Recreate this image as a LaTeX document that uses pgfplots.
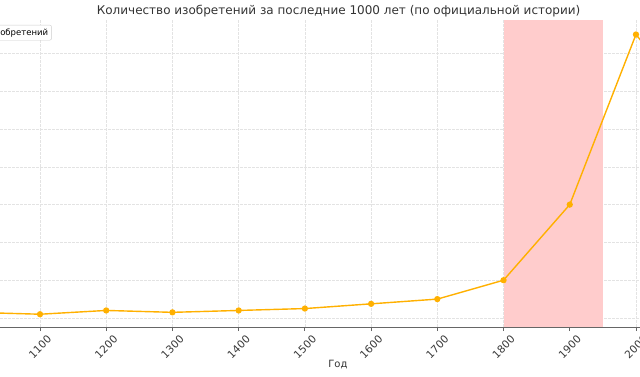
\documentclass[border=0pt]{standalone}
\usepackage{fontspec}
\setmainfont{DejaVu Sans}
\usepackage{pgfplots}
\pgfplotsset{compat=1.18}
\definecolor{lineor}{HTML}{FFB000}
\definecolor{spanred}{HTML}{FFCCCC}
\begin{document}
\begin{tikzpicture}
\useasboundingbox (0,0) rectangle (640pt,376pt);
\clip (0,0) rectangle (640pt,376pt);
\begin{axis}[
  at={(0pt,49pt)}, anchor=south west,
  scale only axis, width=640pt, height=307pt,
  xmin=1039.6, xmax=2006.1, ymin=-47.6, ymax=1576.7,
  xtick={1100,1200,...,2000},
  ytick={0,200,...,1400}, yticklabels={},
  /pgf/number format/1000 sep={},
  /pgf/number format/assume math mode=true,
  grid=major, grid style={dash pattern=on 3pt off 1pt, black!11, line width=0.6pt},
  axis x line*=bottom, axis y line*=left,
  x axis line style={black!60, -, line width=0.8pt},
  y axis line style={draw=none},
  ytick style={draw=none},
  xtick style={black!60, line width=0.8pt},
  tick align=outside, major tick length=4pt,
  xticklabel style={font=\fontsize{10.5}{12}\selectfont, text=black!78, yshift=-16pt, rotate=45, anchor=center},
  xlabel={Год},
  xlabel style={font=\fontsize{10}{12}\selectfont, text=black!80, at={(axis description cs:0.528,0)}, anchor=center, yshift=-38pt},
  title={Количество изобретений за последние 1000 лет (по официальной истории)},
  title style={font=\fontsize{12}{14}\selectfont, text=black!80, at={(axis description cs:0.529,1)}, anchor=center, yshift=3pt},
  legend style={at={(axis description cs:0.081,0.984)}, anchor=north east,
    font=\fontsize{8.5}{10}\selectfont, draw=black!20, rounded corners=2pt,
    fill=white, inner sep=1.5pt},
  legend cell align=left,
]
\addplot [draw=none, fill=spanred, forget plot] coordinates {(1800,-47.6) (1950,-47.6) (1950,1576.7) (1800,1576.7)} -- cycle;
\addplot [color=lineor, line width=1.4pt, mark=*, mark size=2.4pt, mark options={fill=lineor, draw=lineor}]
  coordinates {(1000,30) (1100,20) (1200,40) (1300,30) (1400,40) (1500,50) (1600,75) (1700,100) (1800,200) (1900,600) (2000,1500) (2023,1400)};
\addlegendentry{Количество изобретений}
\end{axis}
\end{tikzpicture}
\end{document}
